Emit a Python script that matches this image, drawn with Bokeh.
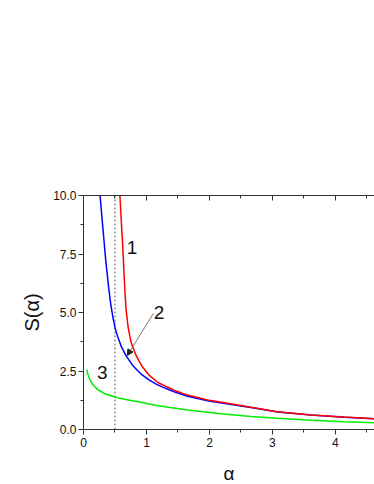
from bokeh.plotting import figure
from bokeh.models import (Range1d, LinearAxis, FixedTicker, PrintfTickFormatter,
                          Label, Arrow, NormalHead)
from bokeh.embed import file_html
from bokeh.resources import INLINE

# Curve 1 (red)
x1 = [0.578, 0.600, 0.622, 0.643, 0.660, 0.677, 0.708, 0.750, 0.778, 0.830, 0.883, 0.937,
      1.05, 1.175, 1.30, 1.45, 1.65, 1.97, 2.34, 2.66, 3.08, 3.61, 4.14, 4.62]
y1 = [10.0, 8.9, 7.9, 6.7, 5.8, 5.1, 4.38, 3.8, 3.55, 3.2, 2.92, 2.67,
      2.30, 2.02, 1.85, 1.67, 1.47, 1.26, 1.10, 0.95, 0.76, 0.62, 0.53, 0.46]
# Curve 2 (blue)
x2 = [0.263, 0.302, 0.354, 0.400, 0.433, 0.470, 0.505, 0.545, 0.600, 0.671, 0.778, 0.857, 0.92,
      1.04, 1.16, 1.30, 1.45, 1.65, 1.97, 2.34, 2.66, 3.08, 3.61, 4.14, 4.62]
y2 = [10.0, 8.79, 7.2, 6.05, 5.35, 4.75, 4.30, 3.95, 3.55, 3.17, 2.75, 2.52, 2.36,
      2.12, 1.93, 1.76, 1.60, 1.42, 1.23, 1.07, 0.94, 0.75, 0.615, 0.525, 0.455]
# Curve 3 (green)
x3 = [0.052, 0.063, 0.089, 0.143, 0.222, 0.327, 0.486, 0.592, 0.751, 0.91, 1.12, 1.35,
      1.65, 2.18, 2.66, 3.08, 3.61, 4.14, 4.62]
y3 = [2.57, 2.42, 2.20, 1.93, 1.71, 1.54, 1.40, 1.32, 1.24, 1.16, 1.05, 0.95,
      0.83, 0.67, 0.56, 0.48, 0.40, 0.33, 0.29]

x_ticks = [0, 1, 2, 3, 4]
x_minor = [0.5, 1.5, 2.5, 3.5, 4.5]
y_ticks = [0.0, 2.5, 5.0, 7.5, 10.0]
y_minor = [1.25, 3.75, 6.25, 8.75]
alpha_mark = 0.5
curve_labels = ["1", "2", "3"]
curve_label_x = [0.77, 1.2, 0.3]
curve_label_y = [7.79, 5.01, 2.45]
x_label = "α"
y_label = "S(α)"

FONT = "Liberation Sans"
AX = "#333333"

p = figure(frame_width=291, frame_height=234, output_backend="svg", toolbar_location=None,
           x_range=Range1d(0, 4.62), y_range=Range1d(0, 10),
           min_border_left=83, min_border_right=0, min_border_top=195, min_border_bottom=55)
p.outline_line_color = None
p.grid.visible = False
p.background_fill_color = "white"
p.border_fill_color = "white"

for ax in (p.xaxis[0], p.yaxis[0]):
    ax.axis_line_color = AX
    ax.major_tick_line_color = AX
    ax.minor_tick_line_color = AX
    ax.major_tick_out = 5
    ax.major_tick_in = 0
    ax.minor_tick_out = 3
    ax.minor_tick_in = 0
    ax.major_label_text_font = FONT
    ax.major_label_text_font_size = "12px"
    ax.major_label_text_color = "#111111"
    ax.axis_label_text_font = FONT
    ax.axis_label_text_font_style = "normal"
    ax.axis_label_text_color = "#111111"

p.xaxis[0].ticker = FixedTicker(ticks=x_ticks, minor_ticks=x_minor)
p.yaxis[0].ticker = FixedTicker(ticks=y_ticks, minor_ticks=y_minor)
p.yaxis[0].formatter = PrintfTickFormatter(format="%.1f")
p.xaxis[0].major_label_standoff = 3
p.yaxis[0].major_label_standoff = 2
p.xaxis[0].axis_label = x_label
p.xaxis[0].axis_label_text_font_size = "19px"
p.xaxis[0].axis_label_standoff = 13
p.yaxis[0].axis_label = y_label
p.yaxis[0].axis_label_text_font_size = "20px"
p.yaxis[0].axis_label_standoff = 7

top = LinearAxis(ticker=FixedTicker(ticks=x_ticks, minor_ticks=x_minor),
                 major_label_overrides={t: "" for t in x_ticks},
                 axis_line_color=AX, major_tick_line_color=AX, minor_tick_line_color=AX,
                 major_tick_in=5, major_tick_out=0, minor_tick_in=3, minor_tick_out=0)
p.add_layout(top, "above")

p.segment(x0=[alpha_mark], y0=[0], x1=[alpha_mark], y1=[10], line_color="#333333",
          line_width=0.8, line_dash="2 2")

p.line(x3, y3, line_color="#00ee00", line_width=1.5)
p.line(x2, y2, line_color="#0000ff", line_width=1.5)
p.line(x1, y1, line_color="#ff0000", line_width=1.5)

p.add_layout(Arrow(x_start=1.11, y_start=4.96, x_end=0.695, y_end=3.16,
                   line_color="#555555", line_width=0.8,
                   end=NormalHead(size=6, fill_color="#222222", line_color="#222222")))

for txt, lx, ly in zip(curve_labels, curve_label_x, curve_label_y):
    p.add_layout(Label(x=lx, y=ly, text=txt, text_font=FONT, text_font_size="19px",
                       text_align="center", text_baseline="middle", text_color="#111111"))

open("out.html", "w").write(file_html(p, INLINE))
